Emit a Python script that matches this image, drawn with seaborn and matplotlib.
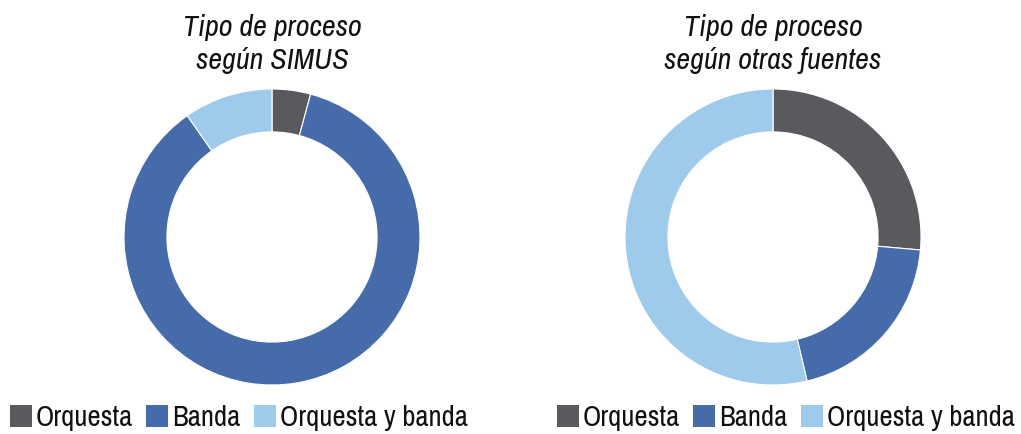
import matplotlib
matplotlib.use("Agg")
import matplotlib.pyplot as plt
from matplotlib import font_manager
from matplotlib.patches import Patch
from matplotlib.font_manager import FontProperties
from matplotlib.textpath import TextPath
import seaborn as sns

categories = ["Orquesta", "Banda", "Orquesta y banda"]
simus_values = [4.2, 86.1, 9.7]
otras_values = [26.4, 19.9, 53.7]
titles = ["Tipo de proceso\nsegún SIMUS", "Tipo de proceso\nsegún otras fuentes"]
colors = ["#5a595e", "#466bab", "#9ecbec"]

sns.set_style("white")

# choose a condensed face if one is installed
fam, stretch = "Liberation Sans", "normal"
for f in font_manager.fontManager.ttflist:
    if "Narrow" in f.name or "Condensed" in f.name:
        fam, stretch = f.name, "normal"
        break
else:
    for f in font_manager.fontManager.ttflist:
        if f.name == "DejaVu Sans" and (f.stretch in ("condensed", "semi-condensed") or "Condensed" in f.fname):
            fam, stretch = "DejaVu Sans", "condensed"
            break
plt.rcParams["font.family"] = [fam, "DejaVu Sans"]
plt.rcParams["font.stretch"] = stretch
plt.rcParams["text.color"] = "#111111"


def width_px(s, size, style="normal"):
    fp = FontProperties(family=[fam, "DejaVu Sans"], size=size, style=style, stretch=stretch)
    tp = TextPath((0, 0), s, prop=fp)
    bb = tp.get_extents()
    return bb.width * 100 / 72


legend_fs = 20 * 186 / width_px("Orquesta y banda", 20)
title_fs = 20 * 176 / width_px("Tipo de proceso", 20, "italic")

W, H = 1021, 434
fig = plt.figure(figsize=(W / 100, H / 100), dpi=100)
fs_px = legend_fs * 100 / 72


def add_donut(cx, cy, r, values, title, legend_x):
    ax = fig.add_axes([(cx - r) / W, (H - cy - r) / H, 2 * r / W, 2 * r / H])
    ax.pie(values, colors=colors, startangle=90, counterclock=False, radius=1,
           wedgeprops=dict(width=0.29, edgecolor="white", linewidth=0.8))
    ax.set_xlim(-1, 1)
    ax.set_ylim(-1, 1)
    ax.set_aspect("equal")
    ax.axis("off")
    fig.text(cx / W, 1 - 44 / H, title, ha="center", va="center", fontsize=title_fs,
             style="italic", linespacing=1.25, color="#111111")
    handles = [Patch(facecolor=c, edgecolor="none") for c in colors]
    fig.legend(handles, categories, loc="center left",
               bbox_to_anchor=(legend_x / W, 1 - 418 / H), ncol=3, frameon=False,
               fontsize=legend_fs, handlelength=22 / fs_px, handleheight=22 / fs_px,
               handletextpad=4 / fs_px, columnspacing=13 / fs_px,
               borderaxespad=0, borderpad=0, labelcolor="#111111")


add_donut(272, 237, 148, simus_values, titles[0], 10)
add_donut(773, 237, 148, otras_values, titles[1], 557)

fig.savefig("out.png", dpi=100)
